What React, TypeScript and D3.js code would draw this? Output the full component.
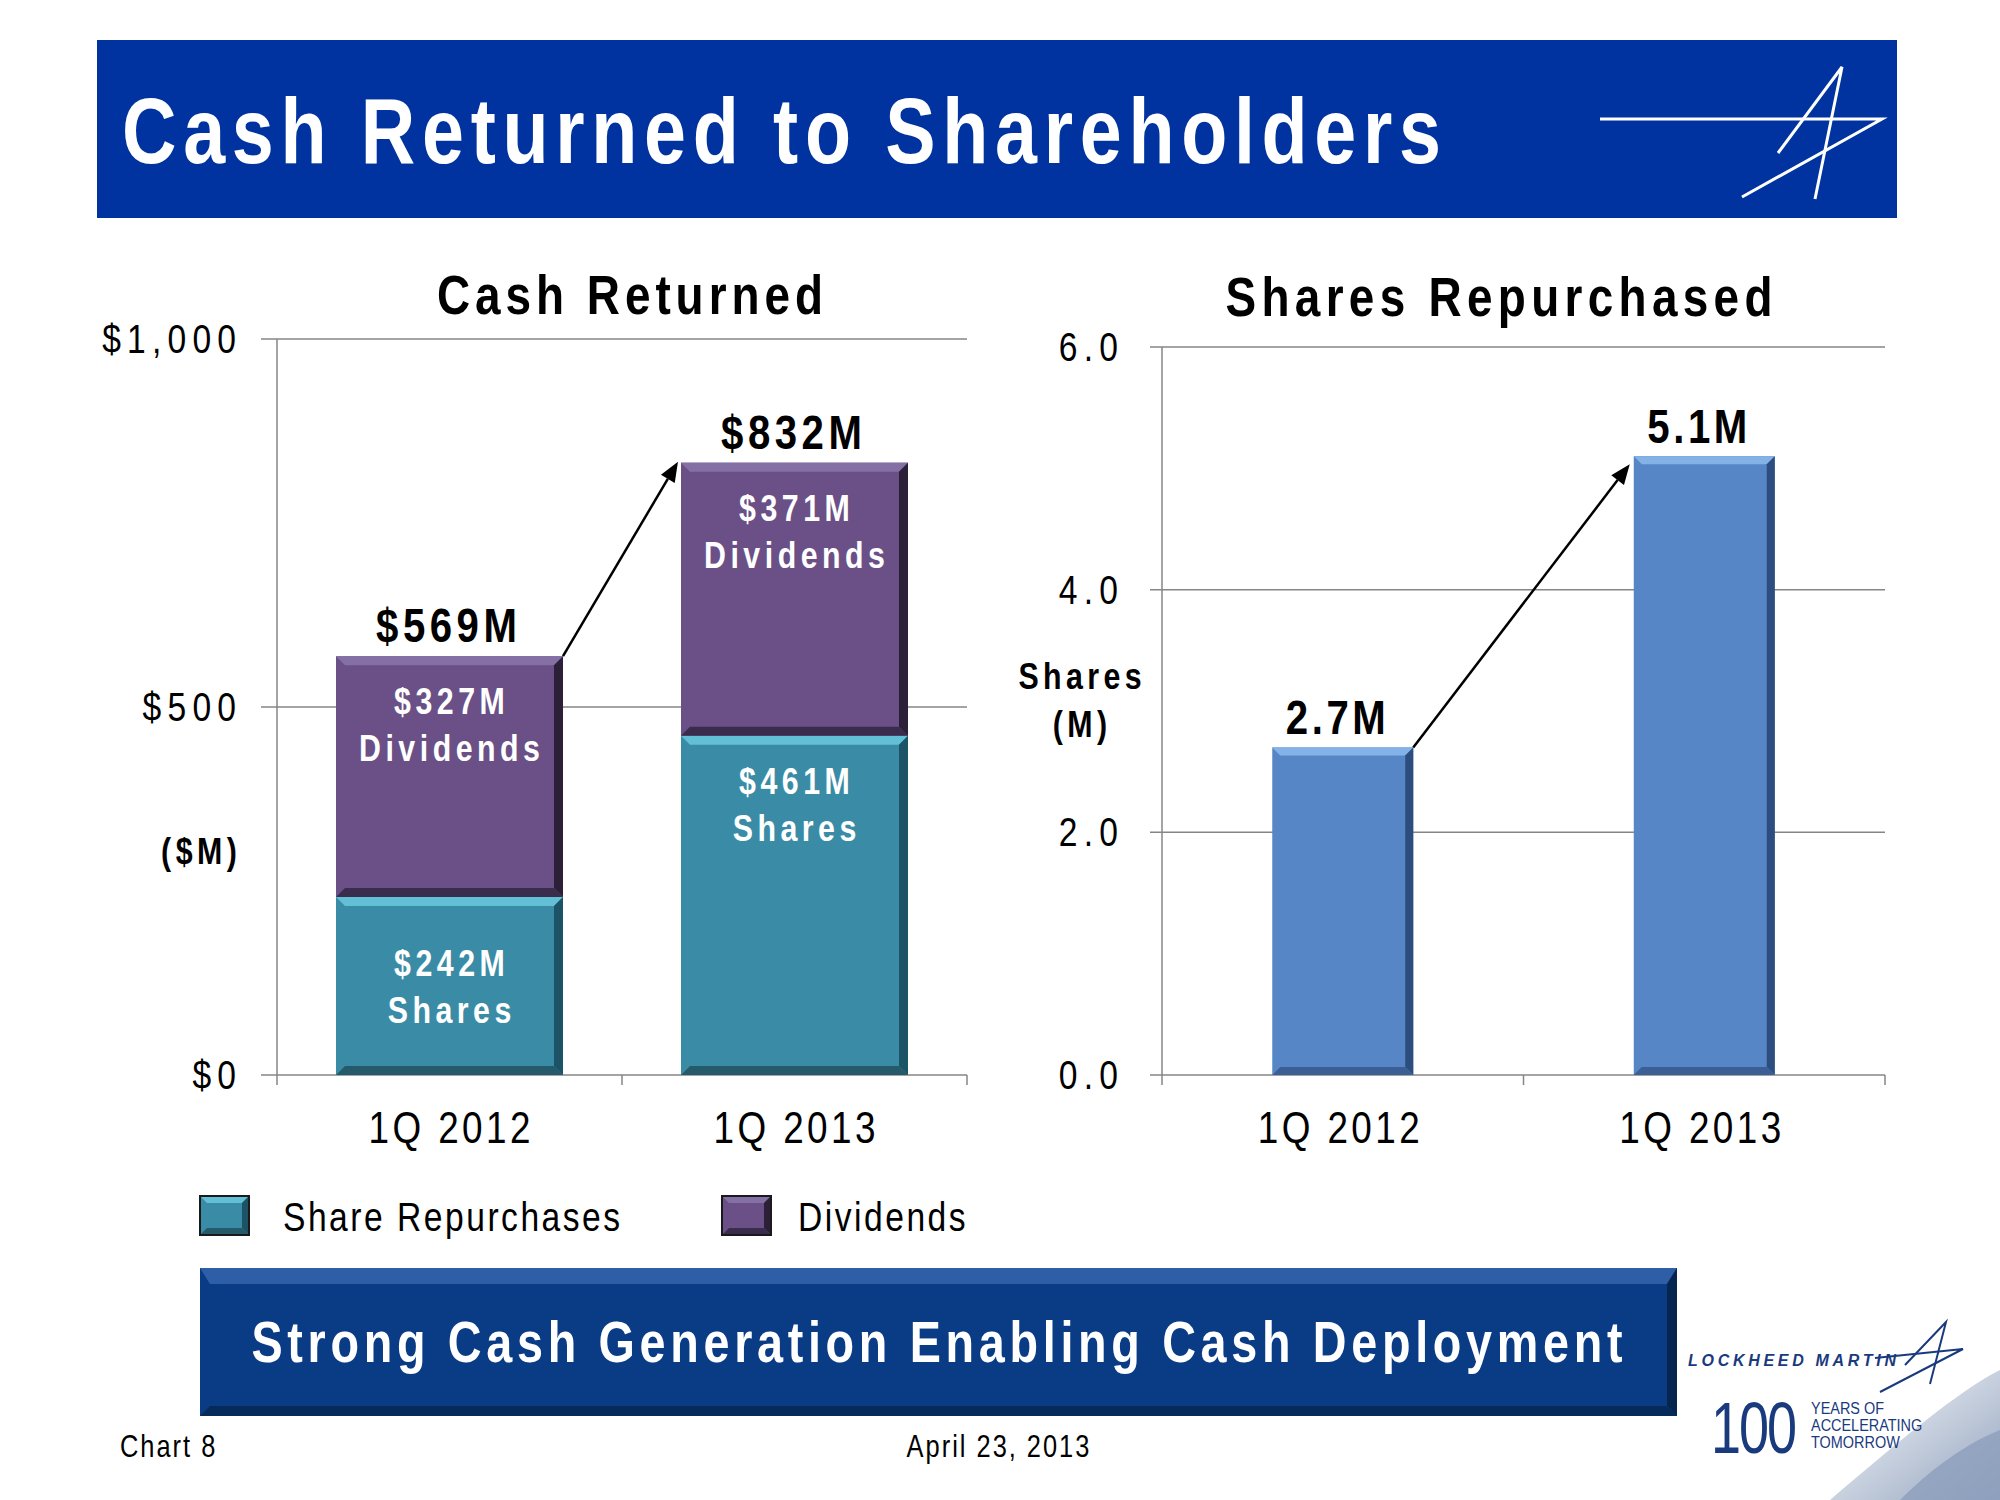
import * as d3 from "d3";
import type { ReactNode } from "react";

// chart data
const quarters = ["1Q 2012", "1Q 2013"];
const shareRepurchases = [242, 461]; // $M
const dividends = [327, 371]; // $M
const sharesRepurchased = [2.7, 5.1]; // M shares
const cashTicks = [0, 500, 1000];
const shareTicks = [0, 2, 4, 6];
const legendItems = ["Share Repurchases", "Dividends"];

const SANS = "'Liberation Sans', Arial, sans-serif";
const W = 2000;
const H = 1500;

const teal = { base: "#3a8ca6", light: "#62bfd6", side: "#1d5366", bottom: "#245a6a" };
const purple = { base: "#6a5086", light: "#8470a4", side: "#2b2038", bottom: "#3a2c4c" };
const blue = { base: "#5686c6", light: "#84b2e6", side: "#2c4d7e", bottom: "#3b5f95" };

type Pal = { base: string; light: string; side: string; bottom: string };

// narrow text: no arial narrow installed, so squeeze liberation sans horizontally
const T = ({
  x, y, size, ls = 0, bold = false, anchor = "start", fill = "#000", sx = 0.82, len, italic = false, children,
}: {
  x: number; y: number; size: number; ls?: number; bold?: boolean; anchor?: string; fill?: string;
  sx?: number; len?: number; italic?: boolean; children: ReactNode;
}) => {
  // trailing letter spacing shifts anchored text, compensate
  const shift = len ? 0 : anchor === "middle" ? ls / 2 : anchor === "end" ? ls : 0;
  return (
    <text
      transform={`translate(${x + shift},${y}) scale(${sx},1)`}
      fontFamily={SANS}
      fontSize={size}
      fontWeight={bold ? "bold" : "normal"}
      fontStyle={italic ? "italic" : "normal"}
      textAnchor={anchor}
      fill={fill}
      style={len ? undefined : { letterSpacing: `${ls / sx}px` }}
      textLength={len ? len / sx : undefined}
      lengthAdjust={len ? "spacing" : undefined}
    >
      {children}
    </text>
  );
};

// bar with a bevelled look like the powerpoint shape style
const Bevel = ({ x, y, w, h, pal, b = 9 }: { x: number; y: number; w: number; h: number; pal: Pal; b?: number }) => {
  const p = (pts: number[][]) => pts.map((q) => q.join(",")).join(" ");
  return (
    <g>
      <rect x={x} y={y} width={w} height={h} fill={pal.base} />
      <polygon points={p([[x, y], [x + w, y], [x + w - b, y + b], [x + b, y + b]])} fill={pal.light} />
      <polygon points={p([[x + w, y], [x + w, y + h], [x + w - b, y + h - b], [x + w - b, y + b]])} fill={pal.side} />
      <polygon points={p([[x, y + h], [x + w, y + h], [x + w - b, y + h - b], [x + b, y + h - b]])} fill={pal.bottom} />
    </g>
  );
};

const Arrow = ({ x1, y1, x2, y2 }: { x1: number; y1: number; x2: number; y2: number }) => {
  const a = Math.atan2(y2 - y1, x2 - x1);
  const len = 20;
  const wid = 8;
  const bx = x2 - len * Math.cos(a);
  const by = y2 - len * Math.sin(a);
  const px = -Math.sin(a) * wid;
  const py = Math.cos(a) * wid;
  return (
    <g>
      <line x1={x1} y1={y1} x2={bx} y2={by} stroke="#000" strokeWidth={2.5} />
      <polygon points={`${x2},${y2} ${bx + px},${by + py} ${bx - px},${by - py}`} fill="#000" />
    </g>
  );
};

const App = () => {
  // left chart: cash returned
  const cashX = d3.scaleBand().domain(quarters).range([277, 967]).paddingInner(0.342).paddingOuter(0.171);
  const cashY = d3.scaleLinear().domain([0, 1000]).range([1075, 339]);
  const fmtCash = d3.format("$,.0f");

  // right chart: shares repurchased
  const shX = d3.scaleBand().domain(quarters).range([1162, 1885]).paddingInner(0.61).paddingOuter(0.305);
  const shY = d3.scaleLinear().domain([0, 6]).range([1075, 347]);

  const gridColor = "#868686";

  // label block sits near the top of tall segments, centred in short ones
  const segLabel = (top: number, bottom: number) => (bottom - top < 200 ? (top + bottom) / 2 : top + 68);

  const totals = quarters.map((_, i) => shareRepurchases[i] + dividends[i]);

  return (
    <svg width={W} height={H} style={{ position: "absolute", left: 0, top: 0, background: "#fff" }}>
      <defs>
        <linearGradient id="swoosh1" x1="0" y1="0" x2="1" y2="1">
          <stop offset="0%" stopColor="#ffffff" />
          <stop offset="100%" stopColor="#7f93b3" />
        </linearGradient>
      </defs>

      {/* header */}
      <rect x={97} y={40} width={1800} height={178} fill="#0033a0" />
      <T x={122} y={163} size={92} bold fill="#fff" len={1319}>Cash Returned to Shareholders</T>
      <g stroke="#fff" fill="none">
        <path d="M1600,119 L1882,119 L1742,197" strokeWidth={3} />
        <path d="M1778,153 L1842,67 L1815,199" strokeWidth={3} />
      </g>

      {/* ---- left chart ---- */}
      <T x={630} y={314} size={56} bold anchor="middle" len={386}>Cash Returned</T>
      {cashTicks.map((t) => (
        <g key={t}>
          <line x1={261} x2={967} y1={cashY(t)} y2={cashY(t)} stroke={gridColor} strokeWidth={1.5} />
          <T x={236} y={cashY(t) + 14} size={41} ls={6.2} anchor="end">{fmtCash(t)}</T>
        </g>
      ))}
      <line x1={277} x2={277} y1={339} y2={1085} stroke={gridColor} strokeWidth={1.5} />
      {[cashX.range()[0] + cashX.step() * (1 + cashX.paddingOuter() - cashX.paddingInner() / 2), 967].map((x, i) => (
        <line key={i} x1={x} x2={x} y1={1075} y2={1085} stroke={gridColor} strokeWidth={1.5} />
      ))}
      <T x={199} y={864} size={37} bold ls={4.5} anchor="middle">($M)</T>

      {quarters.map((q, i) => {
        const x = cashX(q)!;
        const bw = cashX.bandwidth();
        const y0 = cashY(0);
        const yS = cashY(shareRepurchases[i]);
        const yT = cashY(totals[i]);
        const cx = x + bw / 2;
        const sMid = segLabel(yS, y0);
        const dMid = segLabel(yT, yS);
        return (
          <g key={q}>
            <Bevel x={x} y={yS} w={bw} h={y0 - yS} pal={teal} />
            <Bevel x={x} y={yT} w={bw} h={yS - yT} pal={purple} />
            <T x={cx} y={dMid - 10} size={37} bold ls={4.5} anchor="middle" fill="#fff">{`$${dividends[i]}M`}</T>
            <T x={cx} y={dMid + 37} size={37} bold ls={4.5} anchor="middle" fill="#fff">Dividends</T>
            <T x={cx} y={sMid - 10} size={37} bold ls={4.5} anchor="middle" fill="#fff">{`$${shareRepurchases[i]}M`}</T>
            <T x={cx} y={sMid + 37} size={37} bold ls={4.5} anchor="middle" fill="#fff">Shares</T>
            <T x={cx - 3} y={yT - 14} size={49} bold ls={4.5} anchor="middle">{`$${totals[i]}M`}</T>
            <T x={cx} y={1143} size={45} ls={3.4} anchor="middle">{q}</T>
          </g>
        );
      })}
      <Arrow x1={cashX(quarters[0])! + cashX.bandwidth()} y1={cashY(totals[0])}
        x2={cashX(quarters[1])! - 3} y2={cashY(totals[1]) - 1} />

      {/* ---- right chart ---- */}
      <T x={1499} y={316} size={56} bold anchor="middle" len={547}>Shares Repurchased</T>
      {shareTicks.map((t) => (
        <g key={t}>
          <line x1={1150} x2={1885} y1={shY(t)} y2={shY(t)} stroke={gridColor} strokeWidth={1.5} />
          <T x={1118} y={shY(t) + 14} size={41} ls={6.2} anchor="end">{t.toFixed(1)}</T>
        </g>
      ))}
      <line x1={1162} x2={1162} y1={347} y2={1085} stroke={gridColor} strokeWidth={1.5} />
      {[shX.range()[0] + shX.step() * (1 + shX.paddingOuter() - shX.paddingInner() / 2), 1885].map((x, i) => (
        <line key={i} x1={x} x2={x} y1={1075} y2={1085} stroke={gridColor} strokeWidth={1.5} />
      ))}
      <T x={1080} y={689} size={37} bold ls={4.4} anchor="middle">Shares</T>
      <T x={1080} y={737} size={37} bold ls={4.4} anchor="middle">(M)</T>
      {quarters.map((q, i) => {
        const x = shX(q)!;
        const bw = shX.bandwidth();
        const y = shY(sharesRepurchased[i]);
        const cx = x + bw / 2;
        return (
          <g key={q}>
            <Bevel x={x} y={y} w={bw} h={shY(0) - y} pal={blue} b={8} />
            <T x={cx - 7} y={y - 13} size={49} bold ls={3.6} anchor="middle">{`${sharesRepurchased[i]}M`}</T>
            <T x={cx - 4} y={1143} size={45} ls={3.4} anchor="middle">{q}</T>
          </g>
        );
      })}
      <Arrow x1={shX(quarters[0])! + shX.bandwidth()} y1={shY(sharesRepurchased[0])}
        x2={shX(quarters[1])! - 4} y2={shY(sharesRepurchased[1]) + 8} />

      {/* legend */}
      {legendItems.map((name, i) => {
        const lx = i === 0 ? 200 : 722;
        return (
          <g key={name}>
            <Bevel x={lx} y={1196} w={49} h={39} pal={i === 0 ? teal : purple} b={7} />
            <rect x={lx} y={1196} width={49} height={39} fill="none" stroke="#1a1a1a" strokeWidth={2} />
            <T x={lx + (i === 0 ? 83 : 76)} y={1231} size={41} ls={2.5}>{name}</T>
          </g>
        );
      })}

      {/* banner */}
      <rect x={200} y={1268} width={1477} height={148} fill="#0a3c86" />
      <polygon points="200,1268 1677,1268 1667,1284 210,1284" fill="#2e5ea6" />
      <polygon points="1677,1268 1677,1416 1667,1406 1667,1284" fill="#062650" />
      <polygon points="200,1416 1677,1416 1667,1406 210,1406" fill="#062a5c" />
      <T x={937} y={1362} size={57} bold anchor="middle" fill="#fff" len={1371}>
        Strong Cash Generation Enabling Cash Deployment
      </T>

      {/* footer */}
      <T x={120} y={1457} size={31} ls={2}>Chart 8</T>
      <T x={998} y={1457} size={31} ls={2} anchor="middle">April 23, 2013</T>

      {/* swoosh + logo */}
      <path d="M1830,1500 C1900,1440 1960,1390 2000,1370 L2000,1500 Z" fill="url(#swoosh1)" opacity={0.85} />
      <path d="M1900,1500 C1940,1460 1975,1440 2000,1430 L2000,1500 Z" fill="#8d9fbd" opacity={0.8} />
      <T x={1688} y={1366} size={16} bold italic sx={1} fill="#1a3a7e" len={208}>LOCKHEED MARTIN</T>
      <g stroke="#1a3a7e" fill="none">
        <path d="M1875,1358 L1963,1349 L1880,1392" strokeWidth={2} />
        <path d="M1905,1365 L1946,1322 L1930,1384" strokeWidth={2} />
      </g>
      <T x={1711} y={1453} size={72} sx={0.75} ls={-2} fill="#1a3a7e">100</T>
      <T x={1811} y={1414} size={17} sx={0.85} fill="#1a3a7e">YEARS OF</T>
      <T x={1811} y={1431} size={17} sx={0.85} fill="#1a3a7e">ACCELERATING</T>
      <T x={1811} y={1448} size={17} sx={0.85} fill="#1a3a7e">TOMORROW</T>
    </svg>
  );
};

export default App;
